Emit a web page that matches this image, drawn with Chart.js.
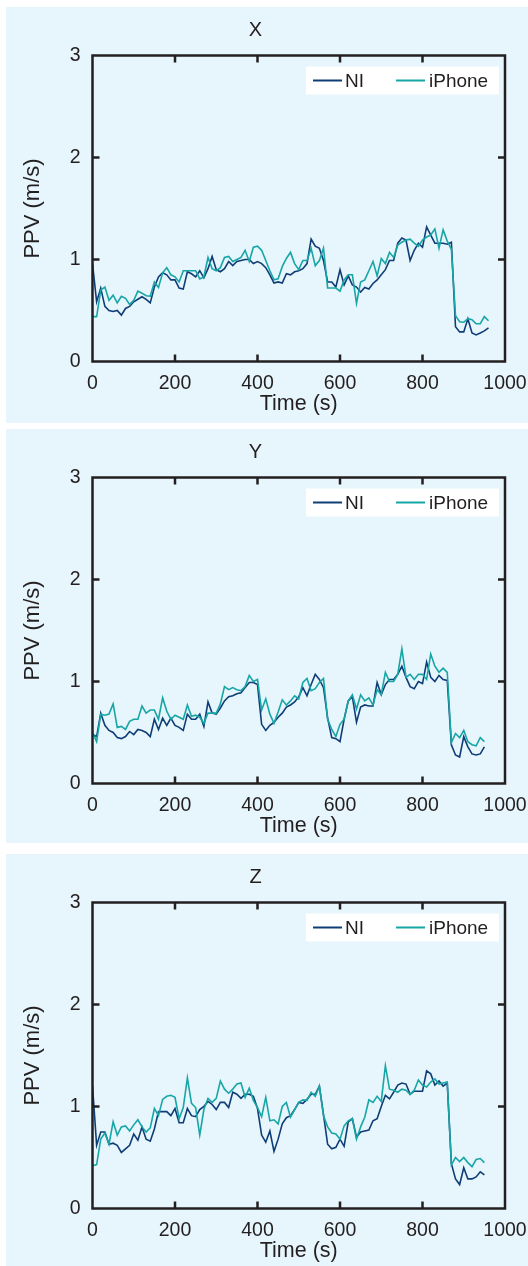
<!DOCTYPE html>
<html>
<head>
<meta charset="utf-8">
<script src="https://cdn.jsdelivr.net/npm/chart.js@4.4.1/dist/chart.umd.min.js"></script>
<style>
  body { margin: 0; background: #ffffff; width: 528px; height: 1266px; overflow: hidden; position: relative; }
  .panel { position: absolute; left: 6px; width: 522px; background: #e7f5fc; overflow: hidden; }
  .box { position: relative; width: 522px; height: 416px; }
</style>
</head>
<body>
<div class="panel" style="top:7px;height:416px"><div class="box"><canvas id="chartX"></canvas></div></div>
<div class="panel" style="top:429px;height:414px"><div class="box"><canvas id="chartY"></canvas></div></div>
<div class="panel" style="top:854px;height:412px"><div class="box"><canvas id="chartZ"></canvas></div></div>
<script>
// tick labels
const xTicks = [0, 200, 400, 600, 800, 1000];
const yTicks = [0, 1, 2, 3];

// time (s) for each component
const timeX = [0,10,20,30,40,50,60,70,80,90,100,110,120,130,140,150,160,170,180,190,200,210,220,230,240,250,260,270,280,290,300,310,320,330,340,350,360,370,380,390,400,410,420,430,440,450,460,470,480,490,500,510,520,530,540,550,560,570,580,590,600,610,620,630,640,650,660,670,680,690,700,710,720,730,740,750,760,770,780,790,800,810,820,830,840,850,860,870,880,890,900,910,920,930,940,950,960];
const timeYZ = [0,10,20,30,40,50,60,70,80,90,100,110,120,130,140,150,160,170,180,190,200,210,220,230,240,250,260,270,280,290,300,310,320,330,340,350,360,370,380,390,400,410,420,430,440,450,460,470,480,490,500,510,520,530,540,550,560,570,580,590,600,610,620,630,640,650,660,670,680,690,700,710,720,730,740,750,760,770,780,790,800,810,820,830,840,850,860,870,880,890,900,910,920,930,940,950];

// PPV (m/s), X
const niX = [0.96,0.585,0.72,0.54,0.50,0.49,0.50,0.455,0.52,0.54,
  0.585,0.61,0.635,0.61,0.575,0.73,0.83,0.87,0.85,0.80,
  0.80,0.72,0.71,0.88,0.86,0.83,0.89,0.82,0.91,1.03,
  0.90,0.88,0.91,0.98,0.94,0.98,0.99,1.0,1.0,0.96,
  0.98,0.96,0.92,0.85,0.77,0.78,0.77,0.86,0.85,0.88,
  0.89,0.91,0.96,1.20,1.13,1.11,0.99,0.78,0.78,0.73,
  0.90,0.75,0.84,0.75,0.73,0.68,0.725,0.71,0.765,0.80,
  0.85,0.90,0.99,0.99,1.16,1.21,1.19,0.99,1.09,1.16,
  1.12,1.32,1.24,1.16,1.16,1.16,1.15,1.17,0.34,0.29,
  0.29,0.42,0.28,0.26,0.28,0.30,0.33];
const iphoneX = [0.44,0.44,0.70,0.73,0.60,0.65,0.575,0.64,0.62,0.56,
  0.60,0.69,0.67,0.645,0.64,0.78,0.725,0.87,0.92,0.85,
  0.83,0.78,0.89,0.89,0.89,0.89,0.81,0.83,1.02,0.91,
  0.89,0.92,1.02,1.03,0.98,1.0,1.02,1.09,0.98,1.12,
  1.13,1.09,0.99,0.89,0.80,0.81,0.93,1.01,1.07,0.96,
  0.90,0.99,0.99,1.11,0.94,0.99,1.11,0.72,0.72,0.72,
  0.69,0.80,0.85,0.85,0.57,0.78,0.80,0.89,0.98,0.84,
  1.01,0.96,1.07,1.02,1.14,1.17,1.19,1.20,1.16,1.13,
  1.19,1.22,1.24,1.30,1.11,1.29,1.18,1.10,0.45,0.39,
  0.385,0.42,0.41,0.37,0.37,0.44,0.40];

// PPV (m/s), Y
const niY = [0.48,0.46,0.69,0.57,0.52,0.50,0.45,0.44,0.46,0.51,
  0.48,0.53,0.52,0.50,0.46,0.63,0.53,0.64,0.57,0.64,
  0.57,0.55,0.52,0.68,0.63,0.63,0.68,0.56,0.80,0.69,
  0.68,0.74,0.81,0.85,0.86,0.88,0.89,0.94,0.99,0.99,
  0.97,0.58,0.52,0.57,0.60,0.65,0.69,0.75,0.77,0.80,
  0.85,0.94,0.86,0.97,1.07,1.02,0.94,0.64,0.45,0.44,
  0.41,0.63,0.81,0.85,0.60,0.75,0.77,0.76,0.76,0.99,
  0.87,0.97,1.02,1.02,1.07,1.15,1.04,0.95,0.93,1.00,
  0.98,1.19,1.04,1.00,1.06,1.02,1.01,0.38,0.28,0.26,
  0.46,0.36,0.29,0.28,0.29,0.36];
const iphoneY = [0.50,0.41,0.68,0.67,0.68,0.78,0.55,0.56,0.53,0.61,
  0.63,0.63,0.76,0.69,0.72,0.72,0.63,0.84,0.71,0.63,
  0.67,0.65,0.63,0.77,0.66,0.67,0.65,0.59,0.69,0.69,
  0.69,0.78,0.95,0.92,0.94,0.92,0.91,0.95,1.06,1.00,
  1.02,0.72,0.83,0.68,0.59,0.70,0.82,0.77,0.81,0.86,
  0.83,0.99,1.03,0.91,0.93,0.99,1.03,0.63,0.53,0.46,
  0.58,0.63,0.81,0.87,0.73,0.87,0.81,0.84,0.77,0.92,
  0.87,1.09,1.00,1.00,1.07,1.32,1.04,1.07,1.02,1.07,
  1.07,1.02,1.27,1.15,1.09,1.13,1.09,0.40,0.49,0.45,
  0.52,0.41,0.38,0.37,0.45,0.41];

// PPV (m/s), Z
const niZ = [1.20,0.62,0.75,0.75,0.63,0.64,0.62,0.55,0.585,0.62,
  0.73,0.67,0.80,0.68,0.66,0.78,0.95,0.95,0.95,0.91,
  0.98,0.84,0.84,0.98,0.91,0.90,0.97,1.00,1.05,1.02,
  0.97,1.04,1.04,0.99,1.14,1.12,1.08,1.12,1.12,1.10,
  0.98,0.72,0.65,0.76,0.56,0.68,0.83,0.89,0.91,0.97,
  1.04,1.03,1.07,1.12,1.12,1.20,0.92,0.63,0.585,0.60,
  0.68,0.61,0.85,0.88,0.70,0.75,0.76,0.77,0.86,0.88,
  1.00,1.11,1.075,1.14,1.21,1.23,1.22,1.12,1.15,1.15,
  1.15,1.35,1.32,1.21,1.25,1.20,1.23,0.44,0.29,0.235,
  0.40,0.29,0.29,0.31,0.36,0.33];
const iphoneZ = [0.42,0.43,0.68,0.74,0.63,0.85,0.72,0.80,0.81,0.76,
  0.82,0.87,0.80,0.75,0.79,0.98,0.91,1.07,1.10,1.11,
  1.09,0.88,0.99,1.28,1.03,0.99,0.72,0.97,1.08,1.04,
  1.08,1.25,1.17,1.13,1.17,1.22,1.23,1.09,1.18,1.06,
  0.99,0.90,1.09,0.86,0.87,0.83,1.00,1.04,0.895,0.97,
  1.04,1.065,1.06,1.14,1.10,1.20,0.91,0.80,0.74,0.73,
  0.68,0.81,0.86,0.88,0.68,0.80,0.895,1.065,1.04,1.10,
  1.05,1.40,1.17,1.16,1.14,1.17,1.16,1.12,1.16,1.26,
  1.21,1.19,1.24,1.27,1.22,1.23,1.24,0.43,0.50,0.46,
  0.50,0.45,0.41,0.48,0.49,0.45];

const niColor = '#0f3d76';
const iphoneColor = '#17a6a6';
const inkColor = '#231f20';
const fontFamily = '"Liberation Sans", Arial, Helvetica, sans-serif';

// box around the plot with inward ticks, plus the white legend in the corner
const boxPlugin = {
  id: 'boxPlugin',
  afterDatasetsDraw(chart) {
    const {ctx, chartArea: a, scales: {x, y}} = chart;
    ctx.save();
    ctx.strokeStyle = inkColor;
    ctx.lineWidth = 2.5;
    ctx.strokeRect(a.left, a.top, a.right - a.left, a.bottom - a.top);
    ctx.beginPath();
    x.ticks.forEach(t => {
      if (t.value <= x.min || t.value >= x.max) return;
      const px = x.getPixelForValue(t.value);
      ctx.moveTo(px, a.bottom); ctx.lineTo(px, a.bottom - 7);
      ctx.moveTo(px, a.top); ctx.lineTo(px, a.top + 7);
    });
    y.ticks.forEach(t => {
      if (t.value <= y.min || t.value >= y.max) return;
      const py = y.getPixelForValue(t.value);
      ctx.moveTo(a.left, py); ctx.lineTo(a.left + 7, py);
      ctx.moveTo(a.right, py); ctx.lineTo(a.right - 7, py);
    });
    ctx.stroke();

    // legend
    const bw = 193, bh = 28;
    const bx = a.right - 6 - bw, by = a.top + 11;
    ctx.fillStyle = '#ffffff';
    ctx.fillRect(bx, by, bw, bh);
    const cy = by + bh / 2;
    const items = [[7, 39], [90, 123]];
    ctx.font = '19px ' + fontFamily;
    ctx.textBaseline = 'middle';
    ctx.textAlign = 'left';
    chart.data.datasets.forEach((ds, i) => {
      const [lx, tx] = items[i];
      ctx.strokeStyle = ds.borderColor;
      ctx.lineWidth = 2;
      ctx.beginPath();
      ctx.moveTo(bx + lx, cy); ctx.lineTo(bx + lx + 29, cy);
      ctx.stroke();
      ctx.fillStyle = inkColor;
      ctx.fillText(ds.label, bx + tx, cy + 1);
    });
    ctx.restore();
  }
};

function makePanel(id, title, times, ni, iphone) {
  const toPoints = vals => vals.map((v, i) => ({x: times[i], y: v}));
  return new Chart(document.getElementById(id), {
    type: 'line',
    data: {
      datasets: [
        {label: 'NI', data: toPoints(ni), borderColor: niColor, borderWidth: 1.6, pointRadius: 0, tension: 0, order: 1},
        {label: 'iPhone', data: toPoints(iphone), borderColor: iphoneColor, borderWidth: 1.6, pointRadius: 0, tension: 0, order: 0}
      ]
    },
    options: {
      responsive: true,
      maintainAspectRatio: false,
      animation: false,
      layout: {padding: {left: 0, right: 23, top: 0, bottom: 0}},
      plugins: {
        legend: {display: false},
        tooltip: {enabled: false},
        title: {
          display: true,
          text: title,
          color: inkColor,
          font: {family: fontFamily, size: 20, weight: 'normal'},
          padding: {top: 11, bottom: 13.5}
        }
      },
      scales: {
        x: {
          type: 'linear',
          min: 0,
          max: 1000,
          afterBuildTicks: s => { s.ticks = xTicks.map(v => ({value: v})); },
          // fixed axis height; the last label may overhang into the right margin
          afterFit: s => { s.height = 61.5; s.paddingLeft = 0; s.paddingRight = 0; },
          grid: {display: false, drawTicks: false},
          border: {display: false},
          ticks: {color: inkColor, padding: 10, maxRotation: 0, font: {family: fontFamily, size: 19.5}, callback: v => String(v)},
          title: {display: true, text: 'Time (s)', color: inkColor, padding: {top: 0, bottom: 6}, font: {family: fontFamily, size: 21.5}}
        },
        y: {
          type: 'linear',
          min: 0,
          max: 3,
          afterBuildTicks: s => { s.ticks = yTicks.map(v => ({value: v})); },
          afterFit: s => { s.width = 86.5; },
          grid: {display: false, drawTicks: false},
          border: {display: false},
          ticks: {color: inkColor, padding: 12, font: {family: fontFamily, size: 19.5}, callback: v => String(v)},
          title: {display: true, text: 'PPV (m/s)', color: inkColor, padding: {top: 14, bottom: 0}, font: {family: fontFamily, size: 22}}
        }
      }
    },
    plugins: [boxPlugin]
  });
}

makePanel('chartX', 'X', timeX, niX, iphoneX);
makePanel('chartY', 'Y', timeYZ, niY, iphoneY);
makePanel('chartZ', 'Z', timeYZ, niZ, iphoneZ);
</script>
</body>
</html>
